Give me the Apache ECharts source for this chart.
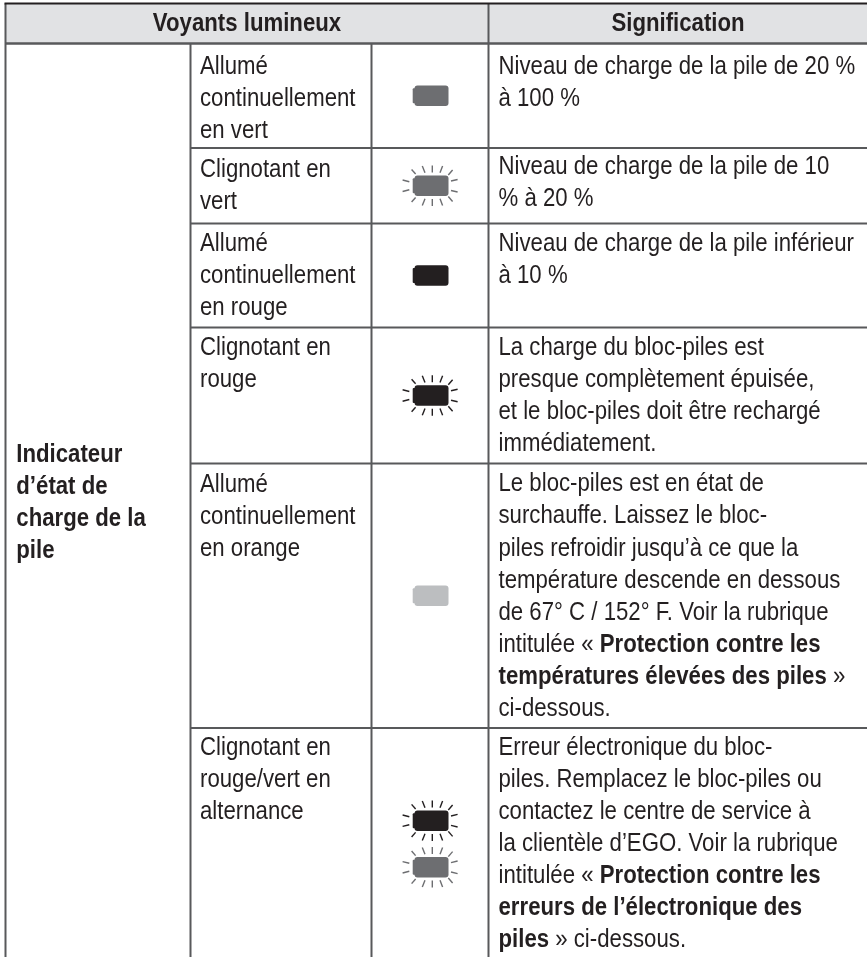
<!DOCTYPE html>
<html>
<head>
<meta charset="utf-8">
<style>
html,body{margin:0;padding:0;background:#fff}
#main{width:867px;height:957px}
</style>
<script src="https://cdn.jsdelivr.net/npm/echarts@6/dist/echarts.min.js"></script>
</head>
<body>
<div id="main"></div>
<script>
// table content
var headers = ['Voyants lumineux', 'Signification'];
var indicator = ['Indicateur', 'd’état de', 'charge de la', 'pile'];
var states = [
  ['Allumé', 'continuellement', 'en vert'],
  ['Clignotant en', 'vert'],
  ['Allumé', 'continuellement', 'en rouge'],
  ['Clignotant en', 'rouge'],
  ['Allumé', 'continuellement', 'en orange'],
  ['Clignotant en', 'rouge/vert en', 'alternance']
];
var lights = [
  ['vert'],
  ['vert blink'],
  ['rouge'],
  ['rouge blink'],
  ['orange'],
  ['rouge blink', 'vert blink']
];
// *...* = bold
var meanings = [
  ['Niveau de charge de la pile de 20 %', 'à 100 %'],
  ['Niveau de charge de la pile de 10', '% à 20 %'],
  ['Niveau de charge de la pile inférieur', 'à 10 %'],
  ['La charge du bloc-piles est', 'presque complètement épuisée,', 'et le bloc-piles doit être rechargé', 'immédiatement.'],
  ['Le bloc-piles est en état de', 'surchauffe. Laissez le bloc-', 'piles refroidir jusqu’à ce que la', 'température descende en dessous', 'de 67° C / 152° F. Voir la rubrique', 'intitulée « *Protection contre les*', '*températures élevées des piles* »', 'ci-dessous.'],
  ['Erreur électronique du bloc-', 'piles. Remplacez le bloc-piles ou', 'contactez le centre de service à', 'la clientèle d’EGO. Voir la rubrique', 'intitulée « *Protection contre les*', '*erreurs de l’électronique des*', '*piles* » ci-dessous.']
];

// layout, in page pixels
var colX = [5.5, 190.5, 371.5, 488.5, 867];
var rowY = [3.5, 43.5, 148, 223.5, 327.5, 463.5, 728, 960];
var stateBase = [76, 178.5, 253, 357, 494, 757];
var meaningBase = [76, 176, 252.7, 356.7, 493.3, 756.7];
var lineGap = 32.1;
var midToBase = 8.8;
var inkColor = '#231f20';
var ruleColor = '#58595b';
var fontFamily = '"Liberation Sans", Arial, sans-serif';
var fontSize = 25;
var shrink = 0.888;

var lightColor = {vert: '#6d6e71', rouge: '#231f20', orange: '#bcbec0'};
// upper half of the rays round a battery, from the rays' centre
var rays = [
  [-20.7,-16.3,-16.7,-11.7], [-10,-19.7,-7.3,-13], [0,-20.3,0,-13.3], [10.3,-19.7,7.7,-13], [20.3,-15.7,16,-10.7],
  [-29.7,-5.7,-23,-4], [25.3,-6.3,18.7,-4.7]
];

function textLine(api, x, base, str, opt) {
  opt = opt || {};
  var p = api.coord([x, base - midToBase]);
  var parts = str.split('*');
  var rich = '';
  parts.forEach(function (s, i) {
    if (s) rich += '{' + (i % 2 || opt.bold ? 'b' : 'r') + '|' + s + '}';
  });
  return {
    type: 'text', x: p[0], y: p[1], scaleX: shrink,
    style: {
      text: rich, textAlign: opt.align || 'left', textVerticalAlign: 'middle',
      fill: inkColor,
      rich: {
        r: {fontFamily: fontFamily, fontSize: fontSize, fill: inkColor},
        b: {fontFamily: fontFamily, fontSize: fontSize, fontWeight: 'bold', fill: inkColor}
      }
    }
  };
}

function rule(api, x1, y1, x2, y2, w, color) {
  var a = api.coord([x1, y1]), b = api.coord([x2, y2]);
  return {
    type: 'line', shape: {x1: a[0], y1: a[1], x2: b[0], y2: b[1]},
    style: {stroke: color || ruleColor, lineWidth: w || 2}
  };
}

function battery(api, cx, cy, kind) {
  var c = lightColor[kind.split(' ')[0]];
  var p = api.coord([cx, cy]);
  var out = [
    {type: 'rect', shape: {x: p[0] - 16.5, y: p[1] - 10.2, width: 34, height: 20.4, r: 3}, style: {fill: c}},
    {type: 'rect', shape: {x: p[0] - 18.3, y: p[1] - 7.5, width: 4, height: 15, r: 1}, style: {fill: c}}
  ];
  if (kind.indexOf('blink') >= 0) {
    rays.forEach(function (r) {
      [1, -1].forEach(function (m) {
        out.push({
          type: 'line',
          shape: {x1: p[0] + 1.3 + r[0], y1: p[1] + m * r[1], x2: p[0] + 1.3 + r[2], y2: p[1] + m * r[3]},
          style: {stroke: c, lineWidth: 1.4}
        });
      });
    });
  }
  return out;
}

function drawFrame(params, api) {
  var kids = [];
  var a = api.coord([colX[0], rowY[0]]), b = api.coord([colX[4], rowY[1]]);
  kids.push({type: 'rect', shape: {x: a[0], y: a[1], width: b[0] - a[0], height: b[1] - a[1]}, style: {fill: '#e1e2e4'}});
  kids.push(rule(api, colX[0], rowY[0], colX[0], 957));
  kids.push(rule(api, colX[3], rowY[0], colX[3], 957));
  kids.push(rule(api, colX[1], rowY[1], colX[1], 957));
  kids.push(rule(api, colX[2], rowY[1], colX[2], 957));
  kids.push(rule(api, colX[0] - 1, rowY[0], colX[4], rowY[0], 2, inkColor));
  kids.push(rule(api, colX[0], rowY[1], colX[4], rowY[1], 2.4));
  kids.push(textLine(api, (colX[0] + colX[3]) / 2, 33, headers[0], {bold: true, align: 'center'}));
  kids.push(textLine(api, (colX[3] + 864.5) / 2 + 1.5, 33, headers[1], {bold: true, align: 'center'}));
  indicator.forEach(function (s, i) {
    kids.push(textLine(api, 16.3, 463.5 + i * lineGap, s, {bold: true}));
  });
  return {type: 'group', children: kids};
}

function drawRow(params, api) {
  var i = params.dataIndex;
  var top = rowY[i + 1], bottom = rowY[i + 2];
  var kids = [];
  if (i > 0) kids.push(rule(api, colX[1], top, colX[4], top));
  states[i].forEach(function (s, k) {
    kids.push(textLine(api, colX[1] + 9.5, stateBase[i] + k * lineGap, s));
  });
  meanings[i].forEach(function (s, k) {
    kids.push(textLine(api, colX[3] + 10, meaningBase[i] + k * lineGap, s));
  });
  var n = lights[i].length;
  lights[i].forEach(function (kind, k) {
    kids = kids.concat(battery(api, 431, (top + bottom) / 2 + (k - (n - 1) / 2) * 46.6, kind));
  });
  return {type: 'group', children: kids};
}

var chart = echarts.init(document.getElementById('main'), null, {renderer: 'canvas'});
chart.setOption({
  animation: false,
  tooltip: {show: false},
  grid: {left: 0, right: 0, top: 0, bottom: 0},
  xAxis: {type: 'value', min: 0, max: 867, show: false},
  yAxis: {type: 'value', min: 0, max: 957, inverse: true, show: false},
  series: [
    {type: 'custom', coordinateSystem: 'cartesian2d', clip: false, silent: true, data: [[0, 0]], renderItem: drawFrame},
    {type: 'custom', coordinateSystem: 'cartesian2d', clip: false, silent: true, data: states.map(function (s, i) { return [i, i]; }), renderItem: drawRow}
  ]
});
</script>
</body>
</html>
